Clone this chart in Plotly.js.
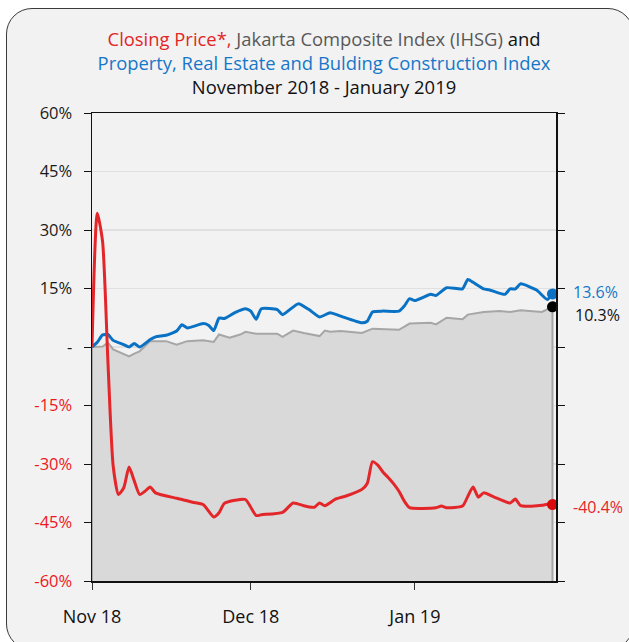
<!DOCTYPE html>
<html><head><meta charset="utf-8">
<script src="https://cdn.plot.ly/plotly-3.0.1.min.js"></script>
<style>
html,body{margin:0;padding:0;background:#fff;width:629px;height:642px;overflow:hidden;}
#frame{position:absolute;left:6px;top:8px;width:628px;height:642px;border:1.5px solid #3a3a3a;border-radius:26px;background:#f2f2f2;box-sizing:border-box;}
#chart{position:absolute;left:0;top:0;width:629px;height:642px;}
</style></head><body>
<div id="frame"></div><div id="chart"></div>
<script>
// Property, Real Estate and Building Construction Index (% change)
var propDates = ['2018-11-01','2018-11-02','2018-11-03','2018-11-04','2018-11-05','2018-11-07','2018-11-08','2018-11-09','2018-11-10','2018-11-12','2018-11-13','2018-11-15','2018-11-17','2018-11-18','2018-11-19','2018-11-22','2018-11-23','2018-11-24','2018-11-25','2018-11-26','2018-11-28','2018-11-30',
  '2018-12-01','2018-12-02','2018-12-03','2018-12-06','2018-12-07','2018-12-10','2018-12-12','2018-12-14','2018-12-16','2018-12-18','2018-12-22','2018-12-23','2018-12-24','2018-12-26','2018-12-29','2018-12-30','2018-12-31',
  '2019-01-01','2019-01-04','2019-01-05','2019-01-07','2019-01-10','2019-01-11','2019-01-12','2019-01-14','2019-01-15','2019-01-18','2019-01-19','2019-01-20','2019-01-21','2019-01-24','2019-01-26','2019-01-27'];
var propValues = [0,1.2,3.1,3.2,1.7,0.6,0.0,0.9,0.0,1.9,2.6,3.0,4.1,5.7,4.9,6.0,5.6,4.2,7.4,7.3,8.8,9.8,
  9.2,7.1,9.8,9.6,8.3,11.1,9.6,7.7,8.8,7.9,6.2,6.6,9.0,9.2,9.2,10.5,12.4,
  11.9,13.5,13.2,15.2,14.9,17.3,16.6,14.9,14.7,13.5,14.9,14.9,16.2,14.6,12.2,13.6];

// Jakarta Composite Index IHSG (% change)
var ihsgDates = ['2018-11-01','2018-11-03','2018-11-04','2018-11-05','2018-11-08','2018-11-09','2018-11-10','2018-11-12','2018-11-15','2018-11-17','2018-11-19','2018-11-22','2018-11-24','2018-11-25','2018-11-27','2018-11-29','2018-11-30',
  '2018-12-02','2018-12-06','2018-12-07','2018-12-09','2018-12-11','2018-12-14','2018-12-15','2018-12-16','2018-12-18','2018-12-22','2018-12-24','2018-12-29','2018-12-31',
  '2019-01-04','2019-01-05','2019-01-07','2019-01-10','2019-01-11','2019-01-14','2019-01-17','2019-01-19','2019-01-21','2019-01-25','2019-01-27'];
var ihsgValues = [0,0.1,1.1,-0.6,-2.4,-1.7,-1.1,1.5,1.5,0.6,1.5,1.7,1.3,3.2,2.4,3.2,3.9,
  3.4,3.4,2.6,4.2,3.6,2.8,4.2,3.9,4.1,3.6,4.7,4.4,6.0,
  6.2,5.8,7.5,7.1,8.3,9.0,9.2,9.0,9.4,9.0,10.3];

// Closing Price (% change)
var closeDates = ['2018-11-01','2018-11-02','2018-11-03','2018-11-04','2018-11-05','2018-11-06','2018-11-07','2018-11-08','2018-11-09','2018-11-10','2018-11-11','2018-11-12','2018-11-13','2018-11-17','2018-11-18','2018-11-20','2018-11-22','2018-11-24','2018-11-25','2018-11-26','2018-11-28','2018-11-30',
  '2018-12-02','2018-12-03','2018-12-07','2018-12-09','2018-12-11','2018-12-12','2018-12-13','2018-12-14','2018-12-15','2018-12-17','2018-12-19','2018-12-22','2018-12-23','2018-12-24','2018-12-25','2018-12-26','2018-12-27','2018-12-28','2018-12-29','2018-12-30','2018-12-31',
  '2019-01-05','2019-01-06','2019-01-07','2019-01-10','2019-01-11','2019-01-12','2019-01-13','2019-01-14','2019-01-16','2019-01-18','2019-01-19','2019-01-20','2019-01-21','2019-01-25','2019-01-26','2019-01-27'];
var closeValues = [0,34.3,27,-3.5,-30.5,-37.8,-36.1,-30.8,-34.4,-37.8,-37.0,-35.9,-37.4,-38.8,-39.1,-39.8,-40.4,-43.6,-42.5,-40.1,-39.3,-39.1,
  -43.2,-43.0,-42.4,-40.0,-40.7,-41.0,-41.1,-40.0,-40.7,-39.0,-38.2,-36.5,-35.0,-29.4,-30.3,-32.1,-33.5,-35.1,-37.0,-39.5,-41.2,
  -41.2,-40.8,-41.2,-40.8,-38.3,-35.9,-38.5,-37.4,-38.5,-39.6,-40.0,-39.0,-40.7,-40.6,-40.3,-40.4];

var yTickVals = [-60,-45,-30,-15,0,15,30,45,60];
var xTickVals = ['2018-11-01','2018-12-01','2019-01-01'];
var xTickText = ['Nov 18','Dec 18','Jan 19'];

var RED = '#e3262a', BLUE = '#0a72c4', GREY = '#a6a6a6', FILL = '#d9d9d9';
var yMin = -60, yMax = 60;

function last(a){ return a[a.length-1]; }
var yTickText = yTickVals.map(function(v){
  if (v === 0) return '-';
  if (v < 0) return '<span style="color:#f0161e">' + v + '%</span>';
  return v + '%';
});

var fillX = [ihsgDates[0]].concat(ihsgDates, [last(ihsgDates)]);
var fillY = [yMin].concat(ihsgValues, [yMin]);

var traces = [
  {x: fillX, y: fillY, type:'scatter', mode:'lines', fill:'toself', fillcolor:FILL,
   line:{color:GREY, width:2}, hoverinfo:'skip'},
  {x: propDates, y: propValues, type:'scatter', mode:'lines',
   line:{color:BLUE, width:3, shape:'spline', smoothing:0.5}},
  {x: closeDates, y: closeValues, type:'scatter', mode:'lines',
   line:{color:RED, width:3, shape:'spline', smoothing:0.6}},
  {x:[last(propDates)], y:[last(propValues)], type:'scatter', mode:'markers', marker:{color:BLUE, size:11}},
  {x:[last(ihsgDates)], y:[last(ihsgValues)], type:'scatter', mode:'markers', marker:{color:'#000', size:11}},
  {x:[last(closeDates)], y:[last(closeValues)], type:'scatter', mode:'markers', marker:{color:'#d80c0c', size:11}}
];

var titleText = '<span style="color:#e32526">Closing Price*,</span> <span style="color:#595959">Jakarta Composite Index (IHSG)</span> and<br>' +
  '<span style="color:#1677c9">Property, Real Estate and Bulding Construction Index</span><br>November 2018 - January 2019';

var xRange = ['2018-11-01', '2019-01-27 16:00'];
var layout = {
  width:629, height:642,
  paper_bgcolor:'rgba(0,0,0,0)', plot_bgcolor:'rgba(0,0,0,0)',
  margin:{l:92, r:73, t:113, b:61, pad:0},
  showlegend:false,
  font:{family:'Open Sans, sans-serif', size:16, color:'#1a1a1a'},
  title:{text:titleText, x:0.5, xref:'paper', xanchor:'center', y:1-46/642, yref:'container', yanchor:'top',
         font:{family:'Open Sans, sans-serif', size:18.4, color:'#111'}},
  xaxis:{type:'date', range:xRange, tickvals:xTickVals, ticktext:xTickText,
         ticks:'outside', ticklen:7, tickcolor:'#333', tickwidth:1,
         showline:true, linecolor:'#111', linewidth:1.5, mirror:true,
         showgrid:false, zeroline:false, ticklabelstandoff:12,
         tickfont:{size:18, color:'#111'}},
  xaxis2:{type:'date', range:xRange, tickvals:xTickVals, overlaying:'x', anchor:'y',
         ticks:'inside', ticklen:7, tickcolor:'#333', tickwidth:1, showticklabels:false,
         showline:false, showgrid:false, zeroline:false},
  yaxis:{range:[yMin,yMax], tickvals:yTickVals, ticktext:yTickText,
         ticks:'outside', ticklen:7, tickcolor:'#111', tickwidth:1,
         showline:true, linecolor:'#111', linewidth:1.5, mirror:'ticks',
         showgrid:true, gridcolor:'#e0e0e0', gridwidth:1.5, zeroline:false,
         ticklabelstandoff:8, tickfont:{size:16.5, color:'#1a1a1a'}},
  yaxis2:{range:[yMin,yMax], tickvals:yTickVals, overlaying:'y', anchor:'x', side:'left',
         ticks:'inside', ticklen:6, tickcolor:'#111', tickwidth:1, mirror:'ticks',
         showticklabels:false, showline:false, showgrid:false, zeroline:false},
  annotations:[
    {x:last(propDates), y:last(propValues), text:last(propValues).toFixed(1)+'%', showarrow:false,
     xanchor:'left', xshift:20, yshift:2, borderpad:0, font:{size:16, color:'#1677c9'}},
    {x:last(ihsgDates), y:last(ihsgValues), text:last(ihsgValues).toFixed(1)+'%', showarrow:false,
     xanchor:'left', xshift:22, yshift:-8, borderpad:0, font:{size:16, color:'#111'}},
    {x:last(closeDates), y:last(closeValues), text:last(closeValues).toFixed(1)+'%', showarrow:false,
     xanchor:'left', xshift:20, yshift:-2, borderpad:0, font:{size:16, color:'#e3262a'}}
  ]
};

Plotly.newPlot('chart', traces, layout, {displayModeBar:false, staticPlot:true});
</script>
</body></html>
